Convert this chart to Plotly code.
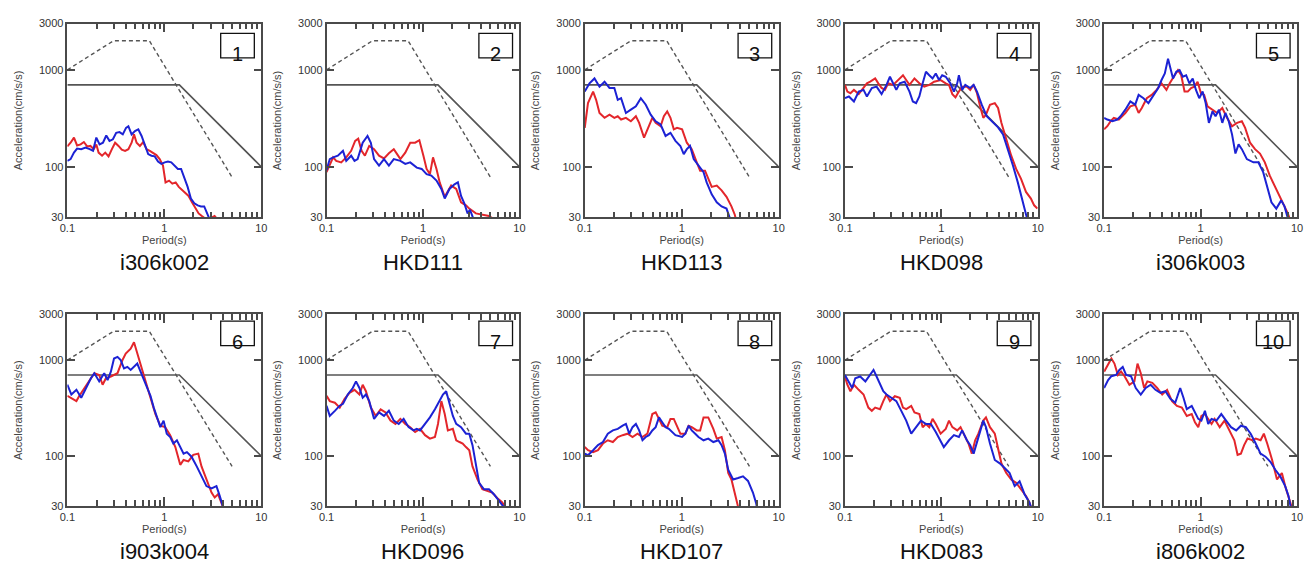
import plotly.graph_objects as go

# Station names, in panel order (left to right, top row first)
STATIONS = ["i306k002", "HKD111", "HKD113", "HKD098", "i306k003",
            "i903k004", "HKD096", "HKD107", "HKD083", "i806k002"]

# Design spectra shared by every panel
DASH_T = [0.1, 0.3, 0.7, 5.0]
DASH_A = [1000, 2000, 2000, 78]
SOLID_T = [0.1, 1.43, 10.0]
SOLID_A = [700, 700, 100]

X_TICKS = [0.1, 1, 10]
X_TICK_TEXT = ["0.1", "1", "10"]
X_MINOR = [0.2, 0.3, 0.4, 0.5, 0.6, 0.7, 0.8, 0.9, 2, 3, 4, 5, 6, 7, 8, 9]
Y_TICKS = [30, 100, 1000, 3000]
Y_TICK_TEXT = ["30", "100", "1000", "3000"]

# ---- 1: i306k002 ----
red_T_1 = [0.100, 0.108, 0.117, 0.126, 0.137, 0.148, 0.160, 0.173, 0.187, 0.199, 0.210, 0.228, 0.246, 0.266,
           0.288, 0.311, 0.337, 0.364, 0.394, 0.426, 0.460, 0.487, 0.518, 0.560, 0.606, 0.655, 0.709, 0.766,
           0.829, 0.896, 0.969, 1.03, 1.12, 1.21, 1.31, 1.41, 1.53, 1.65, 1.78, 1.93, 2.09, 2.26, 2.44, 2.6,
           3.0, 3.3, 3.5]
red_A_1 = [162, 177, 200, 166, 170, 180, 162, 164, 152, 170, 140, 130, 140, 128,
           152, 177, 164, 150, 146, 152, 177, 216, 177, 164, 180, 152, 146, 138,
           132, 120, 103, 69, 72, 67, 69, 62, 57, 53, 50, 43, 37, 33, 31, 29.5,
           29.5, 31, 29]
blue_T_1 = [0.100, 0.108, 0.117, 0.126, 0.139, 0.154, 0.170, 0.184, 0.199, 0.215, 0.233, 0.252, 0.272, 0.295,
            0.319, 0.345, 0.373, 0.403, 0.426, 0.460, 0.498, 0.539, 0.583, 0.630, 0.682, 0.737, 0.797, 0.862,
            0.932, 1.01, 1.09, 1.18, 1.27, 1.38, 1.49, 1.61, 1.74, 1.88, 2.04, 2.21, 2.39, 2.58, 2.79, 2.90]
blue_A_1 = [115, 120, 140, 154, 152, 158, 152, 146, 200, 170, 177, 210, 185, 192,
            224, 228, 216, 252, 262, 216, 234, 243, 208, 170, 135, 130, 128, 113,
            107, 111, 113, 111, 103, 95, 95, 78, 62, 47, 42, 40, 39, 39, 32, 29.5]

# ---- 2: HKD111 ----
red_T_2 = [0.100, 0.108, 0.117, 0.126, 0.142, 0.160, 0.180, 0.198, 0.213, 0.231, 0.250, 0.277, 0.311, 0.350,
           0.394, 0.443, 0.498, 0.539, 0.583, 0.655, 0.737, 0.829, 0.917, 1.01, 1.09, 1.18, 1.27, 1.38,
           1.49, 1.68, 1.81, 1.96, 2.21, 2.48, 2.79, 3.02, 3.53, 4.13, 4.83, 5.22]
red_A_2 = [88, 103, 125, 115, 111, 125, 146, 185, 195, 146, 130, 164, 152, 130,
           122, 138, 152, 135, 120, 140, 177, 177, 188, 130, 95, 84, 125, 95,
           69, 49, 55, 64, 59, 43, 40, 37, 33, 32, 31, 29.5]
blue_T_2 = [0.100, 0.108, 0.117, 0.131, 0.148, 0.160, 0.180, 0.195, 0.210, 0.237, 0.266, 0.288, 0.311, 0.350,
            0.394, 0.443, 0.498, 0.583, 0.655, 0.737, 0.862, 0.969, 1.09, 1.22, 1.38, 1.55, 1.68, 1.88,
            2.12, 2.30, 2.48, 2.68, 2.90, 3.07, 3.31]
blue_A_2 = [92, 120, 125, 130, 146, 115, 130, 115, 120, 177, 208, 177, 120, 103,
            120, 103, 120, 115, 107, 111, 98, 95, 84, 81, 72, 59, 47, 59,
            66, 69, 50, 42, 33, 36, 29.5]

# ---- 3: HKD113 ----
red_T_3 = [0.100, 0.108, 0.122, 0.131, 0.142, 0.160, 0.180, 0.202, 0.219, 0.237, 0.266, 0.299, 0.337, 0.364,
           0.409, 0.443, 0.498, 0.539, 0.606, 0.655, 0.709, 0.766, 0.829, 0.896, 1.01, 1.13, 1.27, 1.43,
           1.55, 1.74, 1.88, 2.04, 2.30, 2.58, 2.90, 3.26, 3.53, 3.6]
red_A_3 = [252, 454, 597, 491, 359, 320, 345, 320, 332, 307, 320, 295, 332, 284,
           200, 243, 320, 284, 262, 332, 373, 320, 243, 252, 243, 177, 152, 111,
           91, 91, 75, 62, 64, 57, 49, 39, 32, 29.5]
blue_T_3 = [0.100, 0.112, 0.126, 0.142, 0.160, 0.180, 0.202, 0.219, 0.237, 0.266, 0.299, 0.337, 0.379, 0.426,
            0.479, 0.539, 0.606, 0.682, 0.766, 0.862, 0.969, 1.05, 1.13, 1.22, 1.33, 1.49, 1.68, 1.81,
            2.04, 2.30, 2.58, 2.90, 3.14]
blue_A_3 = [597, 726, 815, 671, 755, 650, 650, 491, 510, 359, 388, 420, 510, 437,
            345, 295, 273, 208, 224, 185, 164, 135, 152, 164, 120, 103, 88, 69,
            52, 43, 39, 37, 29.5]

# ---- 4: HKD098 ----
red_T_4 = [0.100, 0.106, 0.114, 0.124, 0.139, 0.156, 0.169, 0.183, 0.206, 0.222, 0.240, 0.260, 0.281, 0.316,
           0.355, 0.400, 0.432, 0.467, 0.526, 0.591, 0.665, 0.749, 0.842, 0.983, 1.11, 1.20, 1.30, 1.40,
           1.52, 1.64, 1.84, 1.99, 2.16, 2.34, 2.52, 2.72, 2.90, 3.19, 3.58, 3.87, 4.19, 4.71, 5.30, 5.96,
           6.70, 7.54, 8.48, 9.16, 9.9]
red_A_4 = [700, 597, 574, 621, 562, 650, 726, 755, 815, 726, 650, 621, 726, 700,
           785, 880, 785, 700, 815, 726, 671, 700, 755, 785, 726, 700, 562, 520,
           597, 671, 671, 621, 700, 574, 420, 320, 345, 437, 454, 404, 284, 192, 130, 95,
           75, 55, 47, 40, 37]
blue_T_4 = [0.100, 0.110, 0.124, 0.139, 0.156, 0.169, 0.190, 0.213, 0.240, 0.270, 0.293, 0.316, 0.341, 0.370,
            0.416, 0.467, 0.506, 0.547, 0.591, 0.640, 0.692, 0.749, 0.810, 0.875, 0.947, 1.02, 1.11, 1.24,
            1.35, 1.46, 1.52, 1.64, 1.77, 1.99, 2.16, 2.34, 2.62, 2.95, 3.45, 3.87, 4.36, 4.91, 5.52, 6.20,
            6.97, 7.54, 7.72]
blue_A_4 = [510, 531, 472, 597, 621, 531, 650, 671, 562, 700, 849, 726, 621, 726,
            755, 597, 472, 454, 531, 726, 955, 880, 815, 918, 785, 880, 849, 726,
            597, 726, 880, 621, 700, 650, 700, 597, 437, 332, 284, 255, 216, 152, 103, 69,
            45, 33, 29.5]

# ---- 5: i306k003 ----
red_T_5 = [0.100, 0.108, 0.117, 0.126, 0.142, 0.166, 0.187, 0.210, 0.228, 0.246, 0.277, 0.311, 0.350, 0.394,
           0.443, 0.479, 0.539, 0.583, 0.630, 0.682, 0.737, 0.797, 0.862, 0.932, 1.01, 1.09, 1.18, 1.33,
           1.49, 1.68, 1.88, 2.12, 2.39, 2.68, 2.90, 3.26, 3.67, 4.13, 4.64, 5.22, 5.87, 6.60, 7.42, 8.03,
           8.35]
red_A_5 = [243, 262, 295, 320, 307, 359, 420, 437, 359, 404, 510, 552, 621, 726,
           621, 726, 880, 993, 880, 597, 597, 650, 671, 755, 574, 552, 420, 388,
           359, 404, 320, 262, 284, 295, 252, 177, 152, 137, 111, 81, 64, 50, 40, 33,
           29.5]
blue_T_5 = [0.100, 0.108, 0.122, 0.137, 0.148, 0.166, 0.187, 0.210, 0.228, 0.256, 0.288, 0.324, 0.364, 0.394,
            0.426, 0.460, 0.490, 0.518, 0.560, 0.606, 0.655, 0.709, 0.766, 0.829, 0.896, 0.969, 1.05, 1.13,
            1.22, 1.33, 1.43, 1.55, 1.68, 1.81, 1.96, 2.12, 2.30, 2.48, 2.68, 3.02, 3.53, 3.97, 4.46, 4.83,
            5.43, 6.10, 6.86, 7.42, 8.03]
blue_A_5 = [320, 307, 295, 307, 332, 388, 472, 437, 552, 510, 454, 552, 650, 785,
            918, 1300, 1030, 815, 955, 993, 849, 880, 726, 815, 621, 510, 597, 454,
            284, 373, 332, 388, 284, 359, 295, 216, 137, 170, 152, 120, 111, 111, 88, 64,
            43, 37, 45, 39, 29.5]

# ---- 6: i903k004 ----
red_T_6 = [0.100, 0.110, 0.124, 0.133, 0.150, 0.169, 0.190, 0.213, 0.231, 0.250, 0.281, 0.329, 0.370, 0.400,
           0.450, 0.487, 0.526, 0.569, 0.615, 0.665, 0.720, 0.810, 0.910, 1.02, 1.15, 1.30, 1.46, 1.58,
           1.77, 1.99, 2.24, 2.42, 2.72, 3.07, 3.31, 3.58, 4.03]
red_A_6 = [425, 405, 374, 425, 512, 620, 730, 700, 554, 648, 675, 730, 1000, 1170,
           1314, 1537, 1170, 888, 700, 530, 405, 274, 207, 200, 165, 124, 81, 91,
           88, 103, 106, 78, 57, 41.6, 37, 40, 29.5]
blue_T_6 = [0.100, 0.110, 0.124, 0.139, 0.156, 0.175, 0.190, 0.213, 0.240, 0.260, 0.281, 0.303, 0.329, 0.355,
            0.384, 0.416, 0.450, 0.487, 0.526, 0.569, 0.615, 0.665, 0.720, 0.778, 0.842, 0.910, 0.983, 1.06,
            1.15, 1.24, 1.35, 1.46, 1.58, 1.71, 1.91, 2.16, 2.42, 2.72, 3.07, 3.45, 3.73, 4.03]
blue_A_6 = [554, 438, 490, 405, 512, 648, 730, 600, 730, 620, 758, 1038, 1080, 1000,
            820, 850, 790, 850, 920, 758, 620, 512, 425, 320, 253, 200, 234, 171,
            158, 135, 146, 124, 106, 110, 98.5, 78, 61.5, 48.6, 46, 48.6, 38.4, 29.5]

# ---- 7: HKD096 ----
red_T_7 = [0.100, 0.108, 0.122, 0.137, 0.154, 0.173, 0.195, 0.219, 0.237, 0.256, 0.288, 0.324, 0.364, 0.409,
           0.460, 0.518, 0.583, 0.655, 0.737, 0.829, 0.932, 1.05, 1.18, 1.33, 1.43, 1.55, 1.68, 1.81,
           2.04, 2.21, 2.39, 2.58, 2.79, 3.02, 3.26, 3.67, 4.13, 4.64, 5.22, 5.87, 6.60, 7.14]
red_A_7 = [425, 374, 360, 320, 395, 456, 490, 438, 554, 474, 320, 262, 306, 285,
           234, 216, 244, 216, 200, 178, 192, 165, 152, 158, 216, 374, 274, 185,
           192, 146, 140, 135, 124, 115, 78, 57, 45, 43, 41.6, 36.6, 33, 29.5]
blue_T_7 = [0.100, 0.108, 0.122, 0.137, 0.148, 0.166, 0.187, 0.202, 0.219, 0.237, 0.256, 0.277, 0.311, 0.350,
            0.394, 0.443, 0.498, 0.560, 0.630, 0.709, 0.797, 0.862, 0.932, 1.05, 1.18, 1.33, 1.49, 1.61,
            1.74, 1.88, 2.04, 2.21, 2.48, 2.79, 3.02, 3.26, 3.53, 3.82, 4.29, 4.83, 5.43, 6.10, 6.86]
blue_A_7 = [335, 262, 296, 335, 350, 438, 512, 600, 512, 405, 438, 374, 244, 285,
            262, 296, 234, 216, 244, 200, 185, 192, 185, 216, 253, 308, 374, 438,
            474, 346, 262, 216, 200, 171, 171, 130, 78, 52.6, 45, 45, 40, 34, 29.5]

# ---- 8: HKD107 ----
red_T_8 = [0.100, 0.108, 0.122, 0.137, 0.154, 0.173, 0.195, 0.219, 0.246, 0.277, 0.311, 0.350, 0.394, 0.443,
           0.498, 0.539, 0.583, 0.630, 0.709, 0.766, 0.829, 0.896, 0.969, 1.09, 1.18, 1.27, 1.43, 1.55,
           1.68, 1.88, 2.12, 2.30, 2.58, 2.79, 3.02, 3.26, 3.53, 3.82]
red_A_8 = [124, 115, 110, 115, 135, 146, 140, 158, 165, 171, 158, 171, 158, 171,
           274, 285, 244, 207, 200, 244, 244, 200, 171, 171, 207, 200, 185, 185,
           253, 253, 192, 152, 158, 115, 66.5, 57, 41.6, 29.5]
blue_T_8 = [0.100, 0.108, 0.122, 0.137, 0.154, 0.173, 0.195, 0.219, 0.246, 0.266, 0.288, 0.311, 0.337, 0.364,
            0.394, 0.426, 0.460, 0.498, 0.539, 0.583, 0.630, 0.682, 0.737, 0.797, 0.862, 1.01, 1.09, 1.18,
            1.27, 1.38, 1.49, 1.68, 1.88, 2.12, 2.39, 2.58, 2.79, 3.02, 3.39, 3.82, 4.29, 4.83, 5.43, 5.87,
            5.96]
blue_A_8 = [106, 102, 115, 130, 140, 171, 185, 192, 207, 216, 171, 200, 216, 185,
            146, 158, 165, 185, 200, 253, 225, 200, 192, 178, 165, 158, 171, 207,
            185, 171, 158, 146, 152, 140, 146, 130, 106, 72, 57, 59, 61.5, 55, 41.6, 32,
            29.5]

# ---- 9: HKD083 ----
red_T_9 = [0.100, 0.106, 0.114, 0.124, 0.139, 0.156, 0.175, 0.190, 0.206, 0.231, 0.250, 0.270, 0.293, 0.329,
           0.370, 0.400, 0.432, 0.487, 0.526, 0.591, 0.640, 0.692, 0.749, 0.810, 0.875, 0.983, 1.11, 1.20,
           1.30, 1.46, 1.58, 1.71, 1.91, 2.07, 2.24, 2.42, 2.72, 2.90, 3.19, 3.58, 3.87, 4.19, 4.71, 5.30,
           5.96, 6.70, 7.54, 8.16, 8.48]
red_A_9 = [675, 554, 474, 554, 490, 438, 320, 296, 320, 308, 374, 438, 374, 420,
           405, 320, 308, 333, 285, 274, 200, 216, 200, 244, 216, 171, 192, 234,
           200, 185, 200, 171, 135, 106, 146, 171, 234, 253, 200, 171, 115, 84, 66.5, 57,
           52.6, 45, 38.4, 33, 29.5]
blue_T_9 = [0.100, 0.110, 0.119, 0.128, 0.144, 0.163, 0.183, 0.198, 0.213, 0.231, 0.250, 0.270, 0.304, 0.341,
            0.384, 0.432, 0.487, 0.547, 0.615, 0.692, 0.778, 0.875, 0.983, 1.06, 1.20, 1.35, 1.52, 1.64,
            1.84, 1.99, 2.16, 2.34, 2.52, 2.72, 2.90, 3.19, 3.58, 4.03, 4.53, 5.10, 5.75, 6.47, 7.28, 8.16,
            8.48]
blue_A_9 = [700, 600, 512, 648, 675, 600, 700, 790, 675, 554, 474, 438, 405, 374,
            296, 234, 171, 200, 234, 216, 216, 178, 140, 124, 146, 165, 158, 185,
            146, 130, 106, 140, 185, 234, 200, 135, 91, 84, 75, 66.5, 48.6, 54.5, 40, 33,
            29.5]

# ---- 10: i806k002 ----
red_T_10 = [0.100, 0.107, 0.119, 0.128, 0.139, 0.150, 0.163, 0.183, 0.206, 0.222, 0.240, 0.260, 0.281, 0.316,
            0.355, 0.400, 0.450, 0.506, 0.569, 0.640, 0.720, 0.810, 0.875, 0.947, 1.02, 1.11, 1.20, 1.30,
            1.40, 1.58, 1.77, 1.99, 2.24, 2.42, 2.62, 2.83, 3.07, 3.45, 3.73, 4.19, 4.53, 4.91, 5.52, 6.20,
            6.97, 7.54, 8.16, 8.80]
red_A_10 = [758, 860, 1038, 920, 700, 758, 680, 554, 600, 920, 730, 512, 600, 580,
            512, 438, 490, 374, 333, 320, 262, 274, 225, 200, 262, 274, 244, 216,
            244, 200, 234, 185, 146, 103, 106, 130, 152, 146, 152, 146, 171, 135, 91, 57,
            66.5, 48.6, 38.4, 29.5]
blue_T_10 = [0.100, 0.110, 0.119, 0.133, 0.144, 0.156, 0.169, 0.190, 0.213, 0.240, 0.270, 0.304, 0.341, 0.384,
             0.432, 0.487, 0.547, 0.615, 0.665, 0.720, 0.810, 0.875, 0.947, 1.02, 1.11, 1.20, 1.30, 1.46,
             1.64, 1.84, 2.07, 2.34, 2.62, 2.95, 3.31, 3.73, 4.19, 4.71, 5.30, 5.96, 6.70, 7.54, 8.16, 8.60]
blue_A_10 = [512, 620, 680, 700, 790, 850, 700, 680, 512, 438, 512, 554, 490, 456,
             474, 395, 360, 512, 405, 308, 333, 285, 244, 234, 296, 216, 244, 234,
             274, 234, 200, 185, 207, 200, 171, 135, 106, 98.5, 87, 72, 61.5, 48.6, 38.4, 29.5]

RED_T = [red_T_1, red_T_2, red_T_3, red_T_4, red_T_5, red_T_6, red_T_7, red_T_8, red_T_9, red_T_10]
RED_A = [red_A_1, red_A_2, red_A_3, red_A_4, red_A_5, red_A_6, red_A_7, red_A_8, red_A_9, red_A_10]
BLUE_T = [blue_T_1, blue_T_2, blue_T_3, blue_T_4, blue_T_5, blue_T_6, blue_T_7, blue_T_8, blue_T_9, blue_T_10]
BLUE_A = [blue_A_1, blue_A_2, blue_A_3, blue_A_4, blue_A_5, blue_A_6, blue_A_7, blue_A_8, blue_A_9, blue_A_10]

# ---- page geometry (pixels) ----
W, H = 1304, 568
COL_X = [(60, 256), (322, 517), (583, 779), (846, 1041), (1108, 1303)]
ROW_Y = [(18, 216), (315, 511)]
BOX_TOP_OFF = [10, 7]

FONT = "Liberation Sans, Arial, sans-serif"
FRAME = "#4a4a4a"
RED = "#e3262b"
BLUE = "#1c22d4"

fig = go.Figure()
annotations = []
shapes = []

for i in range(10):
    r, c = divmod(i, 5)
    x0, x1 = COL_X[c]
    y0, y1 = ROW_Y[r]
    n = i + 1
    xa = "x" if n == 1 else f"x{n}"
    ya = "y" if n == 1 else f"y{n}"

    fig.add_trace(go.Scatter(x=DASH_T, y=DASH_A, mode="lines", xaxis=xa, yaxis=ya,
                             line=dict(color="#555555", width=1.4, dash="4px,3px"),
                             showlegend=False, hoverinfo="skip"))
    fig.add_trace(go.Scatter(x=SOLID_T, y=SOLID_A, mode="lines", xaxis=xa, yaxis=ya,
                             line=dict(color="#555555", width=1.6),
                             showlegend=False, hoverinfo="skip"))
    fig.add_trace(go.Scatter(x=RED_T[i], y=RED_A[i], mode="lines", xaxis=xa, yaxis=ya,
                             line=dict(color=RED, width=2), showlegend=False))
    fig.add_trace(go.Scatter(x=BLUE_T[i], y=BLUE_A[i], mode="lines", xaxis=xa, yaxis=ya,
                             line=dict(color=BLUE, width=2), showlegend=False))

    xkey = "xaxis" if n == 1 else f"xaxis{n}"
    ykey = "yaxis" if n == 1 else f"yaxis{n}"
    fig.layout[xkey] = dict(
        domain=[x0 / W, x1 / W], anchor=ya, type="log", range=[-1, 1],
        tickmode="array", tickvals=X_TICKS, ticktext=X_TICK_TEXT,
        ticks="inside", ticklen=9, tickwidth=1.5, tickcolor=FRAME,
        minor=dict(ticks="inside", ticklen=6, tickmode="array", tickvals=X_MINOR,
                   tickcolor=FRAME, tickwidth=1.5, showgrid=False),
        showline=True, linecolor=FRAME, linewidth=1.5, mirror="ticks", showgrid=False, zeroline=False,
        tickfont=dict(family=FONT, size=11, color="#333333"),
        title=dict(text="Period(s)", font=dict(family=FONT, size=11, color="#444444"), standoff=2),
    )
    fig.layout[ykey] = dict(
        domain=[1 - y1 / H, 1 - y0 / H], anchor=xa, type="log", range=[1.4771, 3.4771],
        tickmode="array", tickvals=Y_TICKS, ticktext=Y_TICK_TEXT,
        ticks="inside", ticklen=8, tickwidth=1.5,
        tickcolor=FRAME, showline=True, linecolor=FRAME, linewidth=1.5, mirror="ticks",
        showgrid=False, zeroline=False,
        tickfont=dict(family=FONT, size=11, color="#333333"),
        title=dict(text="Acceleration(cm/s/s)", font=dict(family=FONT, size=11, color="#444444"), standoff=14),
    )

    # station name under the panel
    annotations.append(dict(text=STATIONS[i], xref="paper", yref="paper",
                            x=(x0 + x1) / 2 / W, y=1 - (y1 + 46) / H, xanchor="center", yanchor="middle",
                            showarrow=False, font=dict(family=FONT, size=22, color="#111111")))
    # numbered box in the upper right corner
    bx1 = x1 - 7
    bx0 = bx1 - 34
    by0 = y0 + BOX_TOP_OFF[r]
    by1 = by0 + 25
    shapes.append(dict(type="rect", xref="paper", yref="paper",
                       x0=bx0 / W, x1=bx1 / W, y0=1 - by1 / H, y1=1 - by0 / H,
                       line=dict(color="#111111", width=1.3), fillcolor="white"))
    annotations.append(dict(text=str(n), xref="paper", yref="paper",
                            x=(bx0 + bx1) / 2 / W, y=1 - (by1 - 4) / H, xanchor="center", yanchor="middle",
                            showarrow=False, font=dict(family=FONT, size=20, color="#111111")))

fig.update_layout(width=W, height=H, margin=dict(l=0, r=0, t=0, b=0),
                  paper_bgcolor="white", plot_bgcolor="white",
                  annotations=annotations, shapes=shapes)

fig.write_html("out.html")
